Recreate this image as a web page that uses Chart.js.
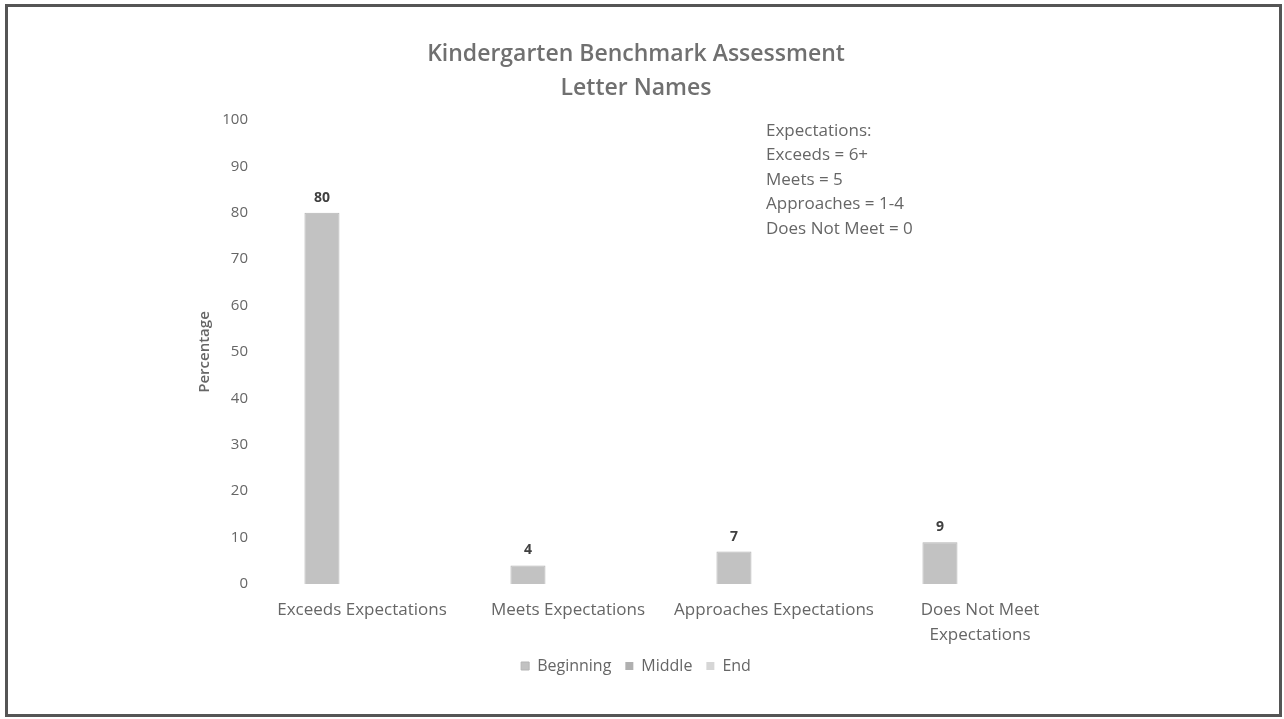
<!DOCTYPE html>
<html>
<head>
<meta charset="utf-8">
<script src="https://cdn.jsdelivr.net/npm/chart.js@4.4.1/dist/chart.umd.min.js"></script>
<style>
  html, body { margin: 0; padding: 0; background: #fff; }
  #wrap { position: relative; width: 1284px; height: 719px; }
</style>
</head>
<body>
<div id="wrap"><canvas id="chart" width="1284" height="719"></canvas></div>
<script>
// Chart data
const categories = [
  'Exceeds Expectations',
  'Meets Expectations',
  'Approaches Expectations',
  ['Does Not Meet', 'Expectations']
];
const seriesNames = ['Beginning', 'Middle', 'End'];
const beginningValues = [80, 4, 7, 9];
const middleValues = [null, null, null, null];
const endValues = [null, null, null, null];
const yTicks = [0, 10, 20, 30, 40, 50, 60, 70, 80, 90, 100];
const titleLines = ['Kindergarten Benchmark Assessment', 'Letter Names'];
const noteLines = ['Expectations:', 'Exceeds = 6+', 'Meets = 5', 'Approaches = 1-4', 'Does Not Meet = 0'];

const FONT = "'Open Sans', sans-serif";
const TEXT = '#666';

// Frame around the whole picture
const framePlugin = {
  id: 'frame',
  afterDraw(chart) {
    const ctx = chart.ctx;
    ctx.save();
    ctx.strokeStyle = '#555';
    ctx.lineWidth = 3;
    ctx.strokeRect(6.5, 5.5, 1274, 710);
    ctx.restore();
  }
};

// Value labels above the Beginning bars
const valueLabels = {
  id: 'valueLabels',
  afterDatasetsDraw(chart) {
    const ctx = chart.ctx;
    const meta = chart.getDatasetMeta(0);
    ctx.save();
    ctx.font = 'bold 14px ' + FONT;
    ctx.fillStyle = '#404040';
    ctx.textAlign = 'center';
    ctx.textBaseline = 'bottom';
    meta.data.forEach((bar, i) => {
      const v = beginningValues[i];
      if (v == null) return;
      ctx.fillText(String(v), bar.x, bar.y - 8);
    });
    ctx.restore();
  }
};

// Expectations note in the upper right
const notePlugin = {
  id: 'note',
  afterDraw(chart) {
    const ctx = chart.ctx;
    ctx.save();
    ctx.font = '17px ' + FONT;
    ctx.fillStyle = TEXT;
    ctx.textAlign = 'left';
    ctx.textBaseline = 'middle';
    noteLines.forEach((line, i) => {
      ctx.fillText(line, 766, 131 + i * 24.5);
    });
    ctx.restore();
  }
};

new Chart(document.getElementById('chart'), {
  type: 'bar',
  data: {
    labels: categories,
    datasets: [
      { label: seriesNames[0], data: beginningValues, backgroundColor: '#c2c2c2', borderColor: '#b4b4b4', borderWidth: 1 },
      { label: seriesNames[1], data: middleValues, backgroundColor: '#b0b0b0' },
      { label: seriesNames[2], data: endValues, backgroundColor: '#d6d6d6' }
    ]
  },
  options: {
    responsive: false,
    animation: false,
    devicePixelRatio: 1,
    categoryPercentage: 0.583,
    barPercentage: 0.875,
    layout: { padding: { left: 189, right: 201, top: 37, bottom: 35 } },
    plugins: {
      title: {
        display: true,
        text: titleLines,
        color: '#707070',
        font: { family: FONT, size: 23, weight: '600', lineHeight: 1.478 },
        padding: { top: 0, bottom: 15 }
      },
      legend: {
        position: 'bottom',
        labels: {
          color: TEXT,
          font: { family: FONT, size: 16 },
          boxWidth: 8,
          boxHeight: 8,
          padding: 14
        }
      },
      tooltip: { enabled: false }
    },
    scales: {
      x: {
        grid: { display: false },
        border: { display: false },
        ticks: {
          color: TEXT,
          font: { family: FONT, size: 17, lineHeight: 1.47 },
          padding: 6,
          maxRotation: 0,
          autoSkip: false
        },
        afterFit: s => { s.height = 60; }
      },
      y: {
        min: 0,
        max: 100,
        afterBuildTicks: s => { s.ticks = yTicks.map(v => ({ value: v })); },
        grid: { display: false },
        border: { display: false },
        ticks: {
          color: TEXT,
          font: { family: FONT, size: 15 },
          padding: 3
        },
        title: {
          display: true,
          text: 'Percentage',
          color: TEXT,
          font: { family: FONT, size: 15, weight: '600' },
          padding: { top: 7, bottom: 0 }
        },
        afterFit: s => { s.width = 70; }
      }
    }
  },
  plugins: [valueLabels, notePlugin, framePlugin]
});
</script>
</body>
</html>
